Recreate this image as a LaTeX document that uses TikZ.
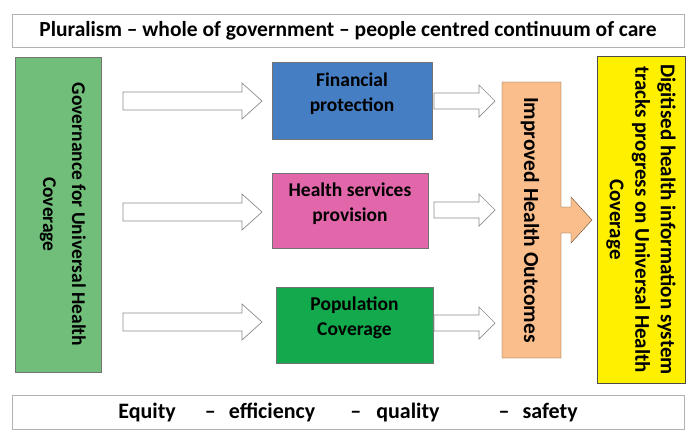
\documentclass[tikz,border=0pt]{standalone}
\usepackage{fontspec}
\setmainfont{Carlito}
\usetikzlibrary{calc}

\definecolor{govgreen}{RGB}{112,190,122}
\definecolor{finblue}{RGB}{70,126,196}
\definecolor{hsppink}{RGB}{226,102,170}
\definecolor{popgreen}{RGB}{18,170,76}
\definecolor{outorange}{RGB}{250,190,140}
\definecolor{hisyellow}{RGB}{255,240,0}

\tikzset{
  box/.style={draw=black!55, inner sep=2pt, align=center, font=\bfseries\fontsize{19.5}{25}\selectfont},
  banner/.style={draw=black!30, fill=white, minimum width=672pt, font=\bfseries\fontsize{21.5}{24}\selectfont},
  hollow/.style={draw=black!45, fill=white, line width=.7pt, line join=miter},
}

\begin{document}
\begin{tikzpicture}[x=1pt,y=-1pt]
\useasboundingbox (0,0) rectangle (691,432);
% banners
\node[banner, minimum height=33pt] (pluralism) at (348,31) {Pluralism -- whole of government -- people centred continuum of care};
\node[banner, minimum height=34pt, font=\bfseries\fontsize{22}{24}\selectfont] (equity) at (348,412) {Equity\hspace{29pt}--\hspace{13pt}efficiency\hspace{35pt}--\hspace{15pt}quality\hspace{59pt}--\hspace{13pt}safety};
% left column
\node[box, fill=govgreen, rotate=-90, minimum width=315pt, minimum height=86pt, font=\bfseries\fontsize{19.5}{29}\selectfont] (governance) at (58,214.5) {Governance for Universal Health\\Coverage\\[-16pt]\mbox{}};
% middle column
\node[box, fill=finblue, minimum width=160pt, minimum height=77pt] (financial) at (352,100.5) {Financial\\protection\\[-8pt]\mbox{}};
\node[box, fill=hsppink, minimum width=156pt, minimum height=75pt] (services) at (350,210.5) {Health services\\provision\\[-8pt]\mbox{}};
\node[box, fill=popgreen, minimum width=157pt, minimum height=76pt] (population) at (354.5,325) {Population\\Coverage\\[-8pt]\mbox{}};
% hollow arrows
\foreach \y in {101,212,322} {
 \draw[hollow] (123,\y-9) -- (242,\y-9) -- (242,\y-18) -- (262,\y) -- (242,\y+18) -- (242,\y+9) -- (123,\y+9) -- cycle;
}
\foreach \y in {101,210,323} {
 \draw[hollow] (434,\y-8) -- (479,\y-8) -- (479,\y-16) -- (495,\y) -- (479,\y+16) -- (479,\y+8) -- (434,\y+8) -- cycle;
}
% outcomes with its arrow
\draw[draw=black!45!brown, fill=outorange] (502,82) -- (561,82) -- (561,207) -- (571,207) -- (571,197) -- (592,220) -- (571,243) -- (571,233) -- (561,233) -- (561,358) -- (502,358) -- cycle;
\node[box, draw=none, rotate=-90, font=\bfseries\fontsize{21.5}{25}\selectfont] (outcomes) at (530,220) {Improved Health Outcomes};
% right column
\node[box, fill=hisyellow, draw=black!70, rotate=-90, minimum width=327pt, minimum height=88pt, font=\bfseries\fontsize{21}{25.5}\selectfont] (tracking) at (641,219.5) {Digitised health information system\\tracks progress on Universal Health\\Coverage};
\end{tikzpicture}
\end{document}
